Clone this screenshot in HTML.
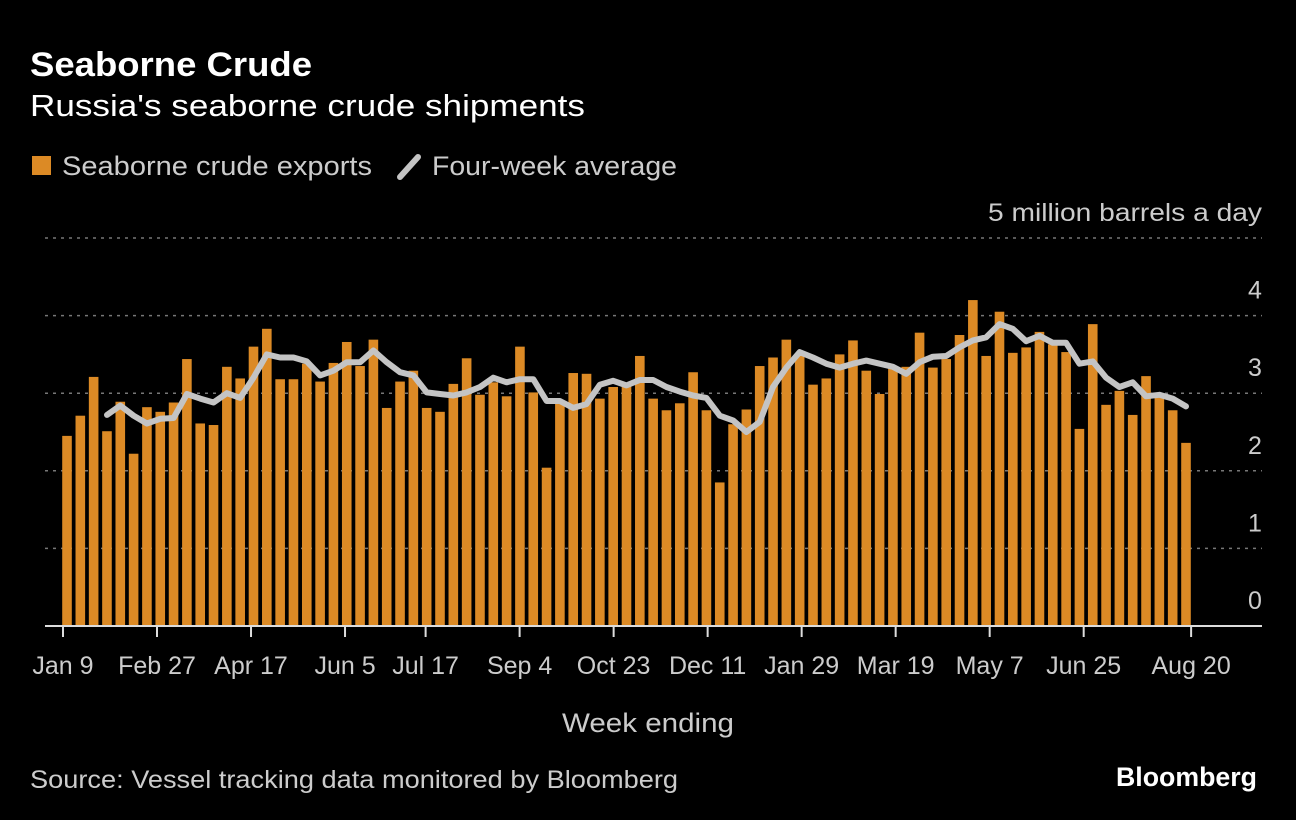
<!DOCTYPE html>
<html><head><meta charset="utf-8"><style>
html,body{margin:0;padding:0;background:#000;}
svg{display:block;font-family:"Liberation Sans",sans-serif;}
</style></head><body>
<svg id="chart" width="1296" height="820" viewBox="0 0 1296 820" xmlns="http://www.w3.org/2000/svg">
<rect width="1296" height="820" fill="#000"/>
<text x="30" y="76" fill="#fff" font-size="34" font-weight="bold" textLength="282" lengthAdjust="spacingAndGlyphs">Seaborne Crude</text>
<text x="30" y="116" fill="#fff" font-size="31" textLength="555" lengthAdjust="spacingAndGlyphs">Russia's seaborne crude shipments</text>
<g>
<rect x="32" y="156" width="19" height="19" fill="#dc8a25"/>
<text x="62" y="175" fill="#ccc" font-size="27" textLength="310" lengthAdjust="spacingAndGlyphs">Seaborne crude exports</text>
<line x1="400" y1="177" x2="418" y2="157" stroke="#c4c4c4" stroke-width="6" stroke-linecap="round"/>
<text x="432" y="175" fill="#ccc" font-size="27" textLength="245" lengthAdjust="spacingAndGlyphs">Four-week average</text>
</g>
<text x="1262" y="221" text-anchor="end" fill="#ccc" font-size="25" textLength="274" lengthAdjust="spacingAndGlyphs">5 million barrels a day</text>
<g id="grid"></g>
<g id="bars"></g>
<g id="line"></g>
<g id="axis"></g>
<text x="648" y="732" text-anchor="middle" fill="#ccc" font-size="27" textLength="172" lengthAdjust="spacingAndGlyphs">Week ending</text>
<text x="30" y="788" fill="#ccc" font-size="25" textLength="648" lengthAdjust="spacingAndGlyphs">Source: Vessel tracking data monitored by Bloomberg</text>
<text x="1257" y="786" text-anchor="end" fill="#fff" font-size="27" font-weight="bold" textLength="141" lengthAdjust="spacingAndGlyphs">Bloomberg</text>
</svg>
<script>
const exportsVals = [2.45,2.71,3.21,2.51,2.89,2.22,2.82,2.76,2.88,3.44,2.61,2.59,3.34,3.19,3.60,3.83,3.18,3.18,3.38,3.15,3.39,3.66,3.35,3.69,2.81,3.15,3.29,2.81,2.76,3.12,3.45,2.98,3.14,2.96,3.60,3.01,2.04,2.90,3.26,3.25,2.93,3.08,3.10,3.48,2.93,2.78,2.87,3.27,2.78,1.85,2.60,2.79,3.35,3.46,3.69,3.50,3.11,3.19,3.50,3.68,3.29,2.99,3.35,3.34,3.78,3.33,3.44,3.75,4.20,3.48,4.05,3.52,3.59,3.79,3.63,3.53,2.54,3.89,2.85,3.03,2.72,3.22,2.97,2.78,2.36];
const avgVals = [null,null,null,2.72,2.84,2.71,2.61,2.67,2.68,2.99,2.93,2.88,3.00,2.94,3.20,3.50,3.46,3.46,3.41,3.23,3.29,3.40,3.40,3.55,3.40,3.27,3.23,3.01,2.99,2.97,3.01,3.08,3.20,3.14,3.18,3.18,2.90,2.90,2.81,2.86,3.11,3.16,3.10,3.17,3.17,3.08,3.02,2.97,2.94,2.71,2.65,2.50,2.63,3.08,3.33,3.53,3.46,3.38,3.33,3.38,3.42,3.38,3.34,3.25,3.40,3.47,3.48,3.59,3.68,3.72,3.89,3.83,3.67,3.74,3.65,3.65,3.38,3.41,3.20,3.08,3.14,2.96,2.98,2.93,2.83];
const tickIdx = [0,7,14,21,27,34,41,48,55,62,69,76,84];
const tickLabels = ["Jan 9","Feb 27","Apr 17","Jun 5","Jul 17","Sep 4","Oct 23","Dec 11","Jan 29","Mar 19","May 7","Jun 25","Aug 20"];
const yTicks = [0,1,2,3,4,5];
const yTickLabels = ["0","1","2","3","4",""];

const NS = "http://www.w3.org/2000/svg";
const y = v => 626 - v * 77.6;
const xBar = i => 67 + i * (1119 / (exportsVals.length - 1));
const xTick = i => 63 + i * 13.43;
function mk(tag, attrs, parent){const e=document.createElementNS(NS,tag);for(const k in attrs)e.setAttribute(k,attrs[k]);parent.appendChild(e);return e;}

const grid = document.getElementById('grid');
yTicks.forEach((t, k) => {
  if (t > 0) {
    const g = mk('line',{x1:45,x2:1262,y1:y(t),y2:y(t),stroke:'#777','stroke-width':1.5,'stroke-dasharray':'3 5'},grid);
    
    
  }
  if (yTickLabels[k]) {
    const tl = mk('text',{x:1255,y:y(t)-17,'text-anchor':'middle',fill:'#ccc','font-size':25},grid);
    tl.textContent = yTickLabels[k];
    
    
  }
});

const bars = document.getElementById('bars');
exportsVals.forEach((v, i) => {
  const r = mk('rect',{x:xBar(i)-4.8,y:y(v),width:9.6,height:y(0)-y(v),fill:'#dc8a25'},bars);
  
  
});

const lg = document.getElementById('line');
let d = '';
avgVals.forEach((v, i) => { if (v == null) return; d += (d ? 'L' : 'M') + xBar(i).toFixed(1) + ' ' + y(v).toFixed(1); });
const p = mk('path',{d:d,fill:'none',stroke:'#c4c4c4','stroke-width':6,'stroke-linejoin':'round','stroke-linecap':'round'},lg);



const ax = document.getElementById('axis');
const base = mk('line',{x1:45,x2:1262,y1:626,y2:626,stroke:'#ddd','stroke-width':2},ax);


tickIdx.forEach((ti, k) => {
  const tk = mk('line',{x1:xTick(ti),x2:xTick(ti),y1:626,y2:637,stroke:'#ddd','stroke-width':2},ax);
  
  
  const tl = mk('text',{x:xTick(ti),y:674,'text-anchor':'middle',fill:'#ccc','font-size':25},ax);
  tl.textContent = tickLabels[k];
  
  
});
</script>
</body></html>
